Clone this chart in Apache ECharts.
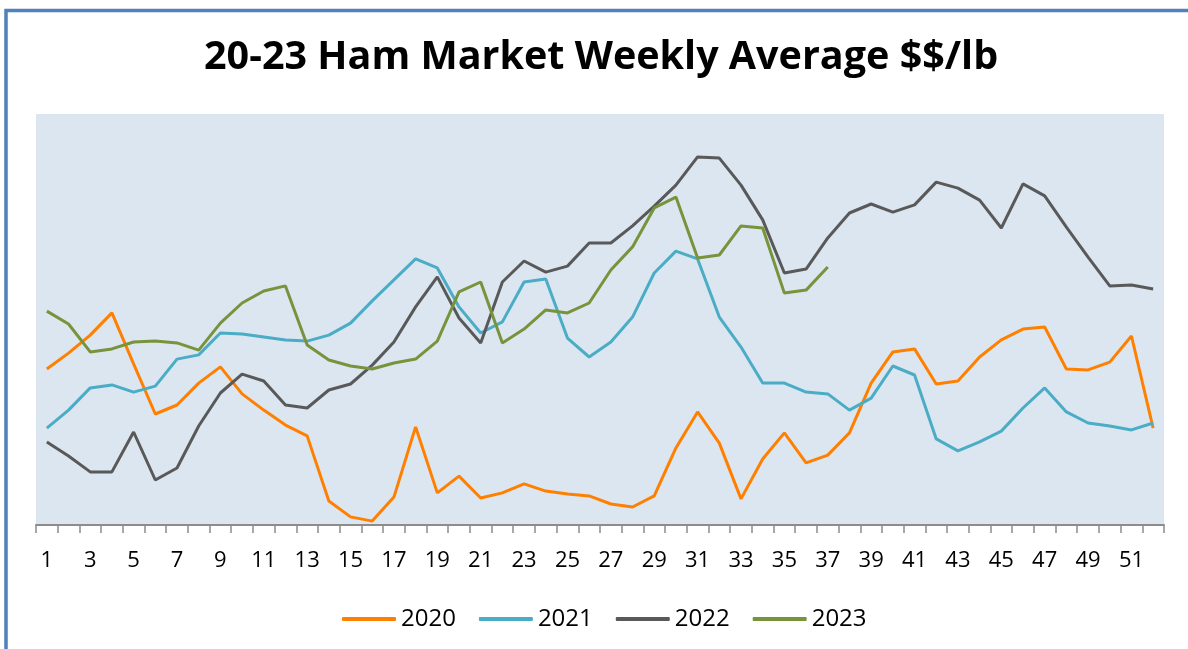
<!DOCTYPE html>
<html>
<head>
<meta charset="utf-8">
<style>
  html, body { margin: 0; padding: 0; background: #fff; }
  #chart { width: 1188px; height: 649px; }
</style>
<script src="https://cdn.jsdelivr.net/npm/echarts@6/dist/echarts.min.js"></script>
</head>
<body>
<div id="chart"></div>
<script>
// weeks 1..52
var weeks = [];
for (var i = 1; i <= 52; i++) weeks.push(String(i));

var legendNames = ['2020', '2021', '2022', '2023'];

// weekly average $/lb
var y2020 = [0.920, 0.973, 1.033, 1.107, 0.937, 0.770, 0.800, 0.873, 0.927, 0.837,
             0.783, 0.733, 0.697, 0.480, 0.427, 0.413, 0.493, 0.727, 0.507, 0.563,
             0.490, 0.507, 0.537, 0.513, 0.503, 0.497, 0.470, 0.460, 0.497, 0.657,
             0.777, 0.673, 0.487, 0.620, 0.707, 0.607, 0.633, 0.707, 0.873, 0.977,
             0.987, 0.870, 0.880, 0.960, 1.017, 1.053, 1.060, 0.920, 0.917, 0.943,
             1.030, 0.723];
var y2021 = [0.723, 0.783, 0.857, 0.867, 0.843, 0.863, 0.953, 0.967, 1.040, 1.037,
             1.027, 1.017, 1.013, 1.033, 1.073, 1.147, 1.217, 1.287, 1.257, 1.127,
             1.040, 1.077, 1.210, 1.220, 1.023, 0.960, 1.010, 1.093, 1.240, 1.313,
             1.287, 1.093, 0.993, 0.873, 0.873, 0.843, 0.837, 0.783, 0.823, 0.930,
             0.900, 0.687, 0.647, 0.677, 0.713, 0.790, 0.857, 0.777, 0.740, 0.730,
             0.717, 0.740];
var y2022 = [0.677, 0.630, 0.577, 0.577, 0.710, 0.550, 0.590, 0.730, 0.840, 0.903,
             0.880, 0.800, 0.790, 0.850, 0.870, 0.933, 1.010, 1.127, 1.227, 1.090,
             1.007, 1.210, 1.280, 1.243, 1.263, 1.340, 1.340, 1.397, 1.463, 1.533,
             1.627, 1.623, 1.533, 1.417, 1.240, 1.253, 1.357, 1.440, 1.470, 1.443,
             1.467, 1.543, 1.523, 1.483, 1.390, 1.537, 1.497, 1.393, 1.293, 1.197,
             1.200, 1.187];
var y2023 = [1.113, 1.070, 0.977, 0.987, 1.010, 1.013, 1.007, 0.983, 1.073, 1.140,
             1.180, 1.197, 1.000, 0.950, 0.930, 0.920, 0.940, 0.953, 1.013, 1.177,
             1.210, 1.007, 1.053, 1.117, 1.107, 1.140, 1.250, 1.327, 1.457, 1.493,
             1.290, 1.300, 1.397, 1.390, 1.173, 1.183, 1.260];

var colors = ['#ff8000', '#4bacc6', '#595959', '#77933c'];

var myChart = echarts.init(document.getElementById('chart'));

function line(name, data, color) {
    return {
        name: name,
        type: 'line',
        data: data,
        showSymbol: false,
        symbol: 'none',
        lineStyle: { color: color, width: 3 },
        itemStyle: { color: color },
        animation: false
    };
}

var option = {
    animation: false,
    title: {
        text: '20-23 Ham Market Weekly Average $$/lb',
        left: 199,
        top: 33,
        textStyle: {
            fontFamily: 'Open Sans',
            fontWeight: 'bold',
            fontSize: 39.5,
            color: '#000'
        }
    },
    graphic: [{ // blue frame round the chart
        type: 'rect',
        shape: { x: 6, y: 10.5, width: 1400, height: 1000 },
        style: { fill: 'none', stroke: '#4f81bd', lineWidth: 3.5 },
        z: 100
    }],
    legend: {
        data: legendNames,
        bottom: 13,
        left: 337,
        itemWidth: 54,
        itemHeight: 4,
        itemGap: 23,
        icon: 'roundRect',
        textStyle: { fontFamily: 'Open Sans', fontSize: 24, color: '#000' }
    },
    grid: {
        left: 36,
        right: 24,
        top: 114,
        bottom: 124,
        show: true,
        backgroundColor: '#dce6f1',
        borderWidth: 0
    },
    xAxis: {
        type: 'category',
        data: weeks,
        boundaryGap: true,
        axisLine: { lineStyle: { color: '#8c8c8c', width: 2 } },
        axisTick: { show: true, length: 8, interval: 0, lineStyle: { color: '#8c8c8c', width: 1.5 } },
        axisLabel: {
            interval: 1,
            margin: 25,
            fontFamily: 'Open Sans',
            fontSize: 22,
            color: '#000'
        }
    },
    yAxis: {
        type: 'value',
        min: 0.4,
        max: 1.77,
        show: false,
        splitLine: { show: false }
    },
    series: [
        line('2020', y2020, colors[0]),
        line('2021', y2021, colors[1]),
        line('2022', y2022, colors[2]),
        line('2023', y2023, colors[3])
    ]
};

myChart.setOption(option);
window.onresize = myChart.resize;
</script>
</body>
</html>
